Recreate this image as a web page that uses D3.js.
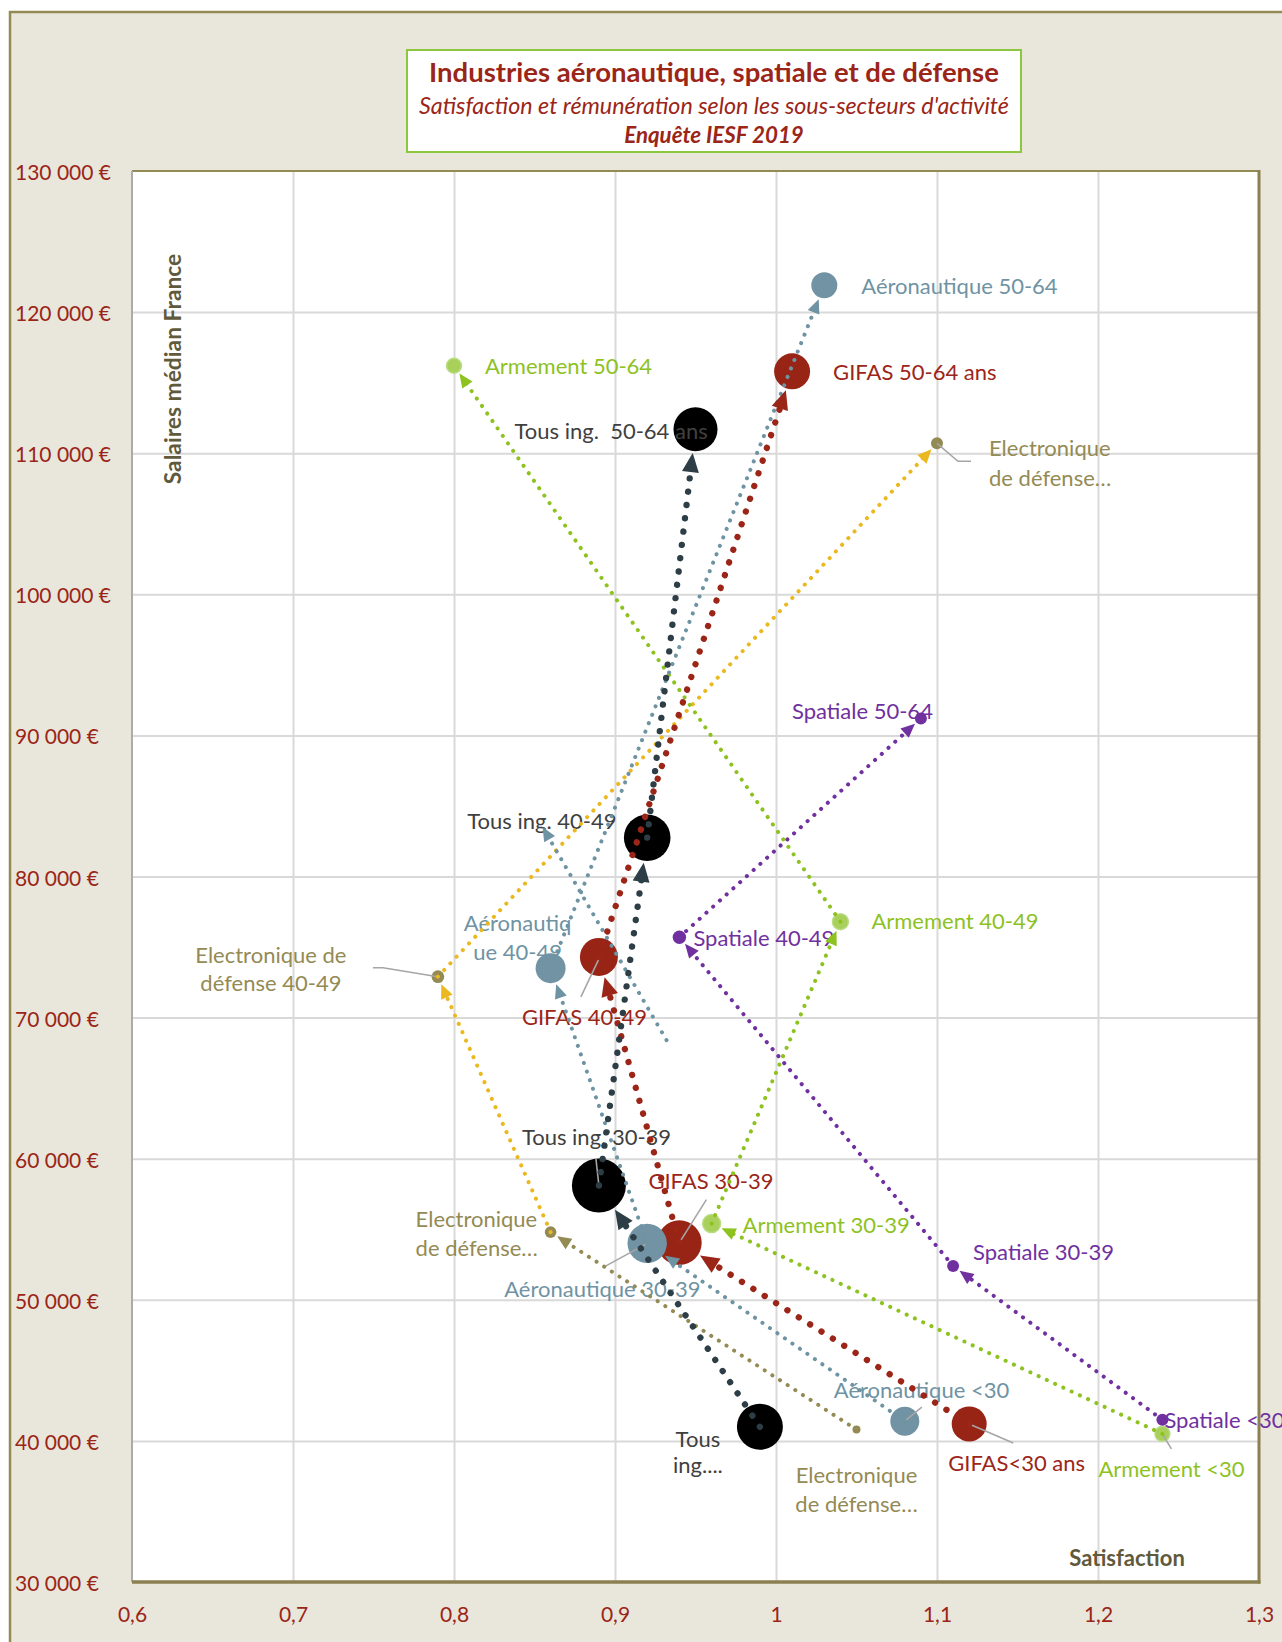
<!DOCTYPE html>
<html><head><meta charset="utf-8">
<script src="https://cdn.jsdelivr.net/npm/d3@7"></script>
<style>
body{margin:0;background:#fff;}
svg{display:block;font-family:Lato,'Open Sans',sans-serif;}
</style>
</head><body>
<svg id="chart" width="1282" height="1642"></svg>
<script>
// ---------- DATA ----------
const ageGroups = ["<30", "30-39", "40-49", "50-64"];
const xTickValues = [0.6, 0.7, 0.8, 0.9, 1.0, 1.1, 1.2, 1.3];
const xTickLabels = ["0,6", "0,7", "0,8", "0,9", "1", "1,1", "1,2", "1,3"];
const yTickValues = [30000, 40000, 50000, 60000, 70000, 80000, 90000, 100000, 110000, 120000, 130000];
const yTickLabels = ["30 000 €", "40 000 €", "50 000 €", "60 000 €", "70 000 €", "80 000 €", "90 000 €", "100 000 €", "110 000 €", "120 000 €", "130 000 €"];

// satisfaction (x), salaire médian (y), taille de bulle — ordre: <30, 30-39, 40-49, 50-64
const tousSat = [0.99, 0.89, 0.92, 0.95];
const tousSal = [41000, 58100, 82750, 111700];
const tousSize = [529, 729, 543, 484];
const tousLabels = [["Tous", "ing...."], ["Tous ing. 30-39"], ["Tous ing. 40-49"], ["Tous ing.  50-64 ans"]];

const gifasSat = [1.12, 0.94, 0.89, 1.01];
const gifasSal = [41200, 54050, 74300, 115800];
const gifasSize = [306, 497, 361, 324];
const gifasLabels = [["GIFAS<30 ans"], ["GIFAS 30-39"], ["GIFAS 40-49"], ["GIFAS 50-64 ans"]];

const aeroSat = [1.08, 0.92, 0.86, 1.03];
const aeroSal = [41400, 54000, 73500, 121900];
const aeroSize = [210, 388, 225, 169];
const aeroLabels = [["Aéronautique <30"], ["Aéronautique 30-39"], ["Aéronautiq", "ue 40-49"], ["Aéronautique 50-64"]];
const aeroExtraSat = [0.932, 0.855];
const aeroExtraSal = [68400, 83500];

const armSat = [1.24, 0.96, 1.04, 0.80];
const armSal = [40500, 55400, 76800, 116200];
const armSize = [56, 81, 64, 56];
const armLabels = [["Armement <30"], ["Armement 30-39"], ["Armement 40-49"], ["Armement 50-64"]];

const spaSat = [1.24, 1.11, 0.94, 1.09];
const spaSal = [41500, 52400, 75700, 91200];
const spaSize = [36, 36, 45, 36];
const spaLabels = [["Spatiale <30"], ["Spatiale 30-39"], ["Spatiale 40-49"], ["Spatiale 50-64"]];

const elecSat = [1.05, 0.86, 0.79, 1.10];
const elecSal = [40800, 54800, 72900, 110700];
const elecSize = [16, 34, 40, 36];
const elecLabels = [["Electronique", "de défense…"], ["Electronique", "de défense…"], ["Electronique de", "défense 40-49"], ["Electronique", "de défense…"]];

// ---------- STYLE / LAYOUT ----------
const svg = d3.select("#chart");
const W = 1282, H = 1642;
const plot = {left: 132, right: 1259, top: 171, bottom: 1582};
const x = d3.scaleLinear().domain([0.6, 1.3]).range([plot.left, plot.right]);
const y = d3.scaleLinear().domain([30000, 130000]).range([plot.bottom, plot.top]);
const r = d3.scaleSqrt().domain([0, 729]).range([0, 27]);

const dark = "#9B2517";
const styles = {
  tous:  {fill: "#000000", line: "#2E3E46", label: "#404040", big: true},
  gifas: {fill: "#982415", line: "#9B2517", label: "#9B2517", big: true},
  aero:  {fill: "#7193A3", line: "#6E93A3", label: "#6F93A3", big: false},
  arm:   {fill: "#A8D05B", line: "#8DC21F", label: "#8DC21F", big: false},
  spa:   {fill: "#7030A0", line: "#7030A0", label: "#7030A0", big: false},
  elec:  {fill: "#948A54", line: "#EBB81F", label: "#948A54", big: false, firstLine: "#948A54"}
};
// label layout: offsets from the bubble centre (px)
const labelLayout = {
  tous: [
    {dx: -62, dy: [12, 38], anchor: "middle"},
    {dx: -77, dy: [-49], anchor: "start", leader: [[0, 0], [-3, -27]]},
    {dx: -180, dy: [-17], anchor: "start"},
    {dx: -181, dy: [1], anchor: "start"}],
  gifas: [
    {dx: -21, dy: [39], anchor: "start", leader: [[0, 0], [44, 19]]},
    {dx: -31, dy: [-62], anchor: "start", leader: [[0, 0], [27, -43]]},
    {dx: -77, dy: [60], anchor: "start", leader: [[1, 0], [-18, 40]]},
    {dx: 41, dy: [0], anchor: "start"}],
  aero: [
    {dx: -71, dy: [-32], anchor: "start", leader: [[0, 0], [17, -14]]},
    {dx: -143, dy: [45], anchor: "start", leader: [[0, 0], [-44, 24]]},
    {dx: -33, dy: [-46, -17], anchor: "middle"},
    {dx: 37, dy: [0], anchor: "start"}],
  arm: [
    {dx: -64, dy: [35], anchor: "start", leader: [[0, 0], [9, 15]]},
    {dx: 31, dy: [1], anchor: "start"},
    {dx: 31, dy: [-1], anchor: "start"},
    {dx: 31, dy: [0], anchor: "start"}],
  spa: [
    {dx: 2, dy: [0], anchor: "start"},
    {dx: 20, dy: [-14], anchor: "start"},
    {dx: 14, dy: [0], anchor: "start"},
    {dx: 12, dy: [-8], anchor: "end"}],
  elec: [
    {dx: 0, dy: [45, 74], anchor: "middle"},
    {dx: -135, dy: [-14, 15], anchor: "start"},
    {dx: -167, dy: [-22, 6], anchor: "middle", leader: [[0, 0], [-55, -9], [-65, -9]]},
    {dx: 52, dy: [4, 34], anchor: "start", leader: [[0, 0], [21, 18], [34, 18]]}]
};

const series = [
  {key: "tous", sat: tousSat, sal: tousSal, size: tousSize, labels: tousLabels},
  {key: "gifas", sat: gifasSat, sal: gifasSal, size: gifasSize, labels: gifasLabels},
  {key: "aero", sat: aeroSat, sal: aeroSal, size: aeroSize, labels: aeroLabels},
  {key: "arm", sat: armSat, sal: armSal, size: armSize, labels: armLabels},
  {key: "spa", sat: spaSat, sal: spaSal, size: spaSize, labels: spaLabels},
  {key: "elec", sat: elecSat, sal: elecSal, size: elecSize, labels: elecLabels}
];
series.forEach(s => {
  s.points = ageGroups.map((a, i) => ({age: a, sat: s.sat[i], sal: s.sal[i], size: s.size[i], label: s.labels[i], i}));
});

// ---------- BACKGROUND ----------
svg.append("rect").attr("width", W).attr("height", H).attr("fill", "#ffffff");
svg.append("rect").attr("x", 10).attr("y", 12).attr("width", W + 40).attr("height", H + 40)
  .attr("fill", "#E9E6DC").attr("stroke", "#948A54").attr("stroke-width", 2.5);

// title box
const tb = svg.append("g");
tb.append("rect").attr("x", 407).attr("y", 50).attr("width", 614).attr("height", 102)
  .attr("fill", "#fff").attr("stroke", "#8DC63F").attr("stroke-width", 2);
tb.append("text").attr("x", 714).attr("y", 71).attr("text-anchor", "middle").attr("dominant-baseline", "central")
  .attr("font-size", 27.5).attr("font-weight", "bold").attr("fill", dark).text("Industries aéronautique, spatiale et de défense");
tb.append("text").attr("x", 714).attr("y", 105).attr("text-anchor", "middle").attr("dominant-baseline", "central")
  .attr("font-size", 23.3).attr("font-style", "italic").attr("fill", dark).text("Satisfaction et rémunération selon les sous-secteurs d'activité");
tb.append("text").attr("x", 714).attr("y", 134).attr("text-anchor", "middle").attr("dominant-baseline", "central")
  .attr("font-size", 22.3).attr("font-style", "italic").attr("font-weight", "bold").attr("fill", dark).text("Enquête IESF 2019");

// plot area
svg.append("rect").attr("x", plot.left).attr("y", plot.top)
  .attr("width", plot.right - plot.left).attr("height", plot.bottom - plot.top).attr("fill", "#fff");

// gridlines via axes
const gx = svg.append("g").attr("transform", `translate(0,${plot.bottom})`)
  .call(d3.axisBottom(x).tickValues(xTickValues.slice(1, -1)).tickSize(-(plot.bottom - plot.top)).tickFormat(""));
const gy = svg.append("g").attr("transform", `translate(${plot.left},0)`)
  .call(d3.axisLeft(y).tickValues(yTickValues.slice(1, -1)).tickSize(-(plot.right - plot.left)).tickFormat(""));
[gx, gy].forEach(g => {
  g.select(".domain").remove();
  g.selectAll("line").attr("stroke", "#D9D9D9").attr("stroke-width", 2);
});

// plot borders
svg.append("line").attr("x1", plot.left).attr("x2", plot.right).attr("y1", plot.top).attr("y2", plot.top)
  .attr("stroke", "#948A54").attr("stroke-width", 2);
svg.append("line").attr("x1", plot.left).attr("x2", plot.left).attr("y1", plot.top).attr("y2", plot.bottom)
  .attr("stroke", "#ABABAB").attr("stroke-width", 2);
svg.append("line").attr("x1", plot.right).attr("x2", plot.right).attr("y1", plot.top - 1).attr("y2", plot.bottom + 1.5)
  .attr("stroke", "#8B8050").attr("stroke-width", 3);
svg.append("line").attr("x1", plot.left).attr("x2", plot.right + 1.5).attr("y1", plot.bottom).attr("y2", plot.bottom)
  .attr("stroke", "#8B8050").attr("stroke-width", 3.5);

// tick labels
const ax = svg.append("g").attr("transform", `translate(0,${plot.bottom})`)
  .call(d3.axisBottom(x).tickValues(xTickValues).tickSize(0).tickPadding(31).tickFormat((d, i) => xTickLabels[i]));
ax.select(".domain").remove();
ax.selectAll("text").attr("font-size", 21).attr("fill", dark).attr("font-family", "Lato");
ax.selectAll("text").attr("dy", null).attr("y", 31).attr("dominant-baseline", "central");

const ay = svg.append("g").attr("transform", `translate(15,0)`)
  .call(d3.axisRight(y).tickValues(yTickValues).tickSize(0).tickPadding(0).tickFormat((d, i) => yTickLabels[i]));
ay.select(".domain").remove();
ay.selectAll("text").attr("font-size", 21).attr("fill", dark).attr("font-family", "Lato")
  .attr("text-anchor", "start").attr("dy", null).attr("dominant-baseline", "central");

// axis titles
svg.append("text").attr("transform", "translate(172,369) rotate(-90)").attr("text-anchor", "middle")
  .attr("dominant-baseline", "central").attr("font-size", 22.8).attr("font-weight", "bold").attr("fill", "#5F5A3B")
  .text("Salaires médian France");
svg.append("text").attr("x", 1127).attr("y", 1557).attr("text-anchor", "middle")
  .attr("dominant-baseline", "central").attr("font-size", 22).attr("font-weight", "bold").attr("fill", "#5F5A3B")
  .text("Satisfaction");

// ---------- BUBBLES ----------
const gBubbles = svg.append("g");
series.forEach(s => {
  const st = styles[s.key];
  gBubbles.selectAll(null).data(s.points).enter().append("circle")
    .attr("cx", d => x(d.sat)).attr("cy", d => y(d.sal)).attr("r", d => r(d.size))
    .attr("fill", st.fill)
    .attr("stroke", s.key === "arm" ? "#BADC85" : "none").attr("stroke-width", 1.5);
});

// ---------- LEADERS & LABELS ----------
const gLead = svg.append("g");
const gLab = svg.append("g");
series.forEach(s => {
  const st = styles[s.key];
  s.points.forEach(p => {
    const L = labelLayout[s.key][p.i];
    const cx = x(p.sat), cy = y(p.sal);
    if (L.leader) {
      gLead.append("path").attr("d", d3.line()(L.leader.map(q => [cx + q[0], cy + q[1]])))
        .attr("fill", "none").attr("stroke", "#A6A6A6").attr("stroke-width", 1.6);
    }
    p.label.forEach((line, k) => {
      gLab.append("text").attr("x", cx + L.dx).attr("y", cy + L.dy[k])
        .attr("text-anchor", L.anchor).attr("dominant-baseline", "central")
        .attr("font-size", 22).attr("fill", st.label).style("white-space", "pre").text(line);
    });
  });
});

// ---------- ARROWS ----------
const gArr = svg.append("g");
function arrow(x1, y1, x2, y2, color, big, tipOffset) {
  const dx = x2 - x1, dy = y2 - y1, len = Math.hypot(dx, dy);
  const ux = dx / len, uy = dy / len;
  const AL = big ? 19 : 14, AW = big ? 17 : 12.5;
  const tx = x2 - ux * tipOffset, ty = y2 - uy * tipOffset;
  const bx = tx - ux * AL, by = ty - uy * AL;
  gArr.append("line").attr("x1", x1).attr("y1", y1).attr("x2", bx + ux * 2).attr("y2", by + uy * 2)
    .attr("stroke", color).attr("stroke-width", big ? 6.3 : 4).attr("stroke-linecap", "round")
    .attr("stroke-dasharray", big ? "0.1 13.3" : "0.1 9");
  gArr.append("path").attr("d", d3.line()([[tx, ty], [bx - uy * AW / 2, by + ux * AW / 2], [bx + uy * AW / 2, by - ux * AW / 2]]) + "Z")
    .attr("fill", color);
}
// draw order: smaller series first
["elec", "spa", "arm", "aero", "gifas", "tous"].forEach(key => {
  const s = series.find(d => d.key === key);
  const st = styles[key];
  for (let i = 0; i < s.points.length - 1; i++) {
    const a = s.points[i], b = s.points[i + 1];
    const col = (i === 0 && st.firstLine) ? st.firstLine : st.line;
    arrow(x(a.sat), y(a.sal), x(b.sat), y(b.sal), col, st.big, r(b.size) + 2);
  }
  if (key === "aero") {
    arrow(x(aeroExtraSat[0]), y(aeroExtraSal[0]), x(aeroExtraSat[1]), y(aeroExtraSal[1]), st.line, false, 0);
  }
});
</script>
</body></html>
